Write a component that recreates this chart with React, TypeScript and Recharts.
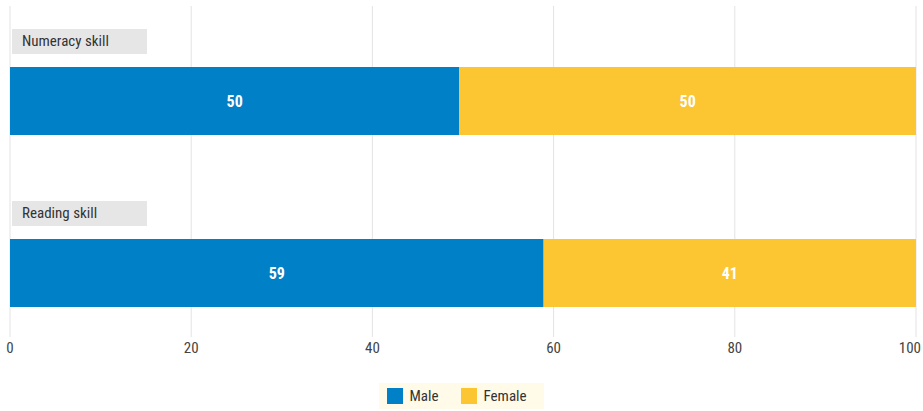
import React from "react";
import { BarChart, Bar, XAxis, YAxis, CartesianGrid, LabelList, Legend } from "recharts";

const categories = ["Numeracy skill", "Reading skill"];
const maleValues = [49.6, 58.9];
const femaleValues = [50.4, 41.1];
const xTicks = [0, 20, 40, 60, 80, 100];

const data = categories.map((c, i) => ({ skill: c, Male: maleValues[i], Female: femaleValues[i] }));

const FONT = "'Roboto Condensed', 'Liberation Sans Narrow', Roboto, sans-serif";
const BLUE = "#0080C6";
const YELLOW = "#FCC532";

const CategoryTick = (props: any) => {
  const { y, payload } = props;
  return (
    <g>
      <rect x={12} y={y - 72} width={135} height={25} fill="#E6E6E7" />
      <text x={22} y={y - 60} dominantBaseline="central" fontSize={15} fill="#333" fontFamily={FONT}>
        {payload.value}
      </text>
    </g>
  );
};

const XTick = (props: any) => {
  const { x, y, payload } = props;
  const last = payload.value === 100;
  return (
    <text x={last ? x + 5 : x} y={y + 8} textAnchor={last ? "end" : "middle"} fontSize={15} fill="#444" fontFamily={FONT}>
      {payload.value}
    </text>
  );
};

const fmt = (v: any) => Math.round(Number(v));

const LegendContent = () => (
  <div style={{ paddingTop: 16, display: "flex", justifyContent: "center" }}>
    <div
      style={{
        background: "#FFFBE8",
        height: 26,
        width: 165,
        display: "flex",
        alignItems: "center",
        fontFamily: FONT,
        fontSize: 15,
        color: "#333",
        marginLeft: -3,
        boxSizing: "border-box",
        paddingLeft: 8,
      }}
    >
      <span style={{ width: 16, height: 16, background: BLUE, display: "inline-block", marginRight: 7 }} />
      <span style={{ marginRight: 22 }}>Male</span>
      <span style={{ width: 16, height: 16, background: YELLOW, display: "inline-block", marginRight: 7 }} />
      <span>Female</span>
    </div>
  </div>
);

export default function App() {
  return (
    <div style={{ position: "absolute", left: 0, top: 0, width: 923, height: 411, background: "#fff" }}>
      <BarChart
        width={923}
        height={411}
        data={data}
        layout="vertical"
        margin={{ top: 6, right: 7, left: 9, bottom: 2 }}
        barSize={68}
      >
        <CartesianGrid horizontal={false} stroke="#E3E3E3" strokeWidth={1} />
        <XAxis
          type="number"
          domain={[0, 100]}
          ticks={xTicks}
          axisLine={false}
          tickLine={false}
          height={30}
          tick={<XTick />}
          interval={0}
        />
        <YAxis
          type="category"
          dataKey="skill"
          width={1}
          axisLine={false}
          tickLine={false}
          tick={<CategoryTick />}
          interval={0}
          padding={{ top: 9, bottom: -22 }}
        />
        <Legend verticalAlign="bottom" content={<LegendContent />} />
        <Bar dataKey="Male" stackId="a" fill={BLUE} isAnimationActive={false}>
          <LabelList dataKey="Male" position="center" fill="#fff" fontSize={16} fontWeight="bold" fontFamily={FONT} formatter={fmt} />
        </Bar>
        <Bar dataKey="Female" stackId="a" fill={YELLOW} isAnimationActive={false}>
          <LabelList dataKey="Female" position="center" fill="#fff" fontSize={16} fontWeight="bold" fontFamily={FONT} formatter={fmt} />
        </Bar>
      </BarChart>
    </div>
  );
}
